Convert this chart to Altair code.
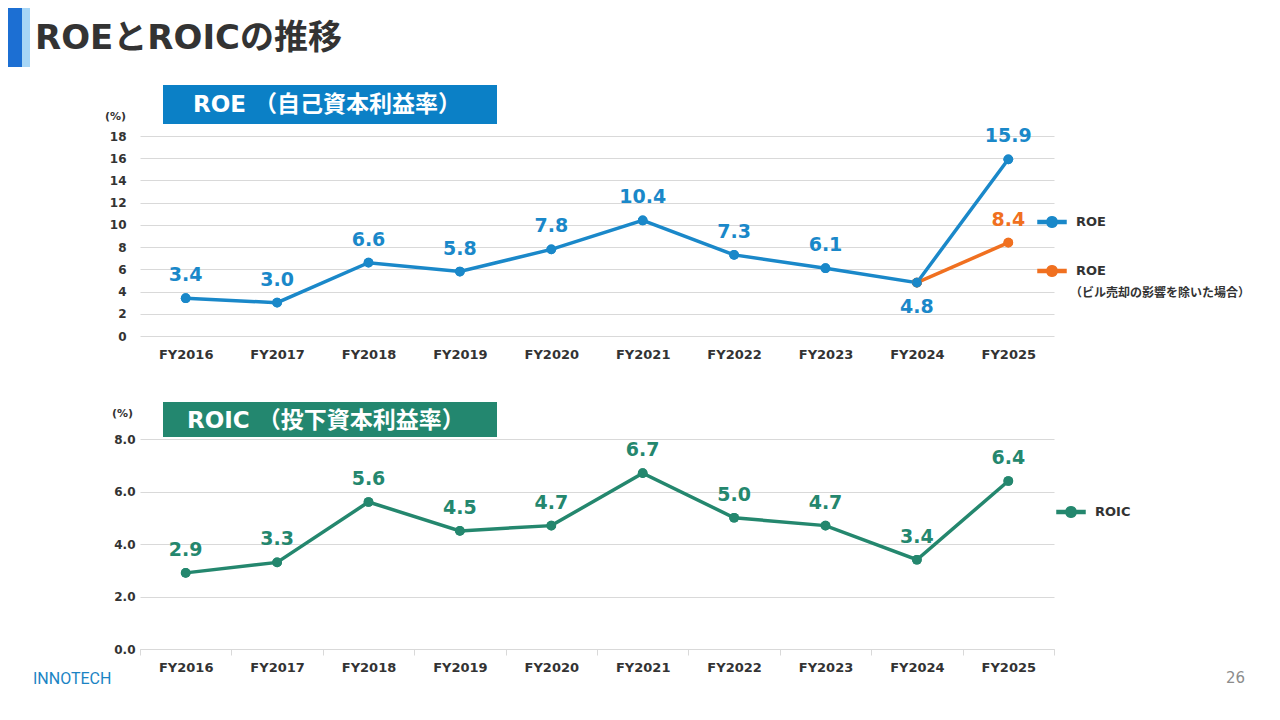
import math
import altair as alt
import pandas as pd

# ---- data ----
years = ['FY2016', 'FY2017', 'FY2018', 'FY2019', 'FY2020',
         'FY2021', 'FY2022', 'FY2023', 'FY2024', 'FY2025']
roe = [3.4, 3.0, 6.6, 5.8, 7.8, 10.4, 7.3, 6.1, 4.8, 15.9]
roe_adj_years = ['FY2024', 'FY2025']
roe_adj = [4.8, 8.4]
roic = [2.9, 3.3, 5.6, 4.5, 4.7, 6.7, 5.0, 4.7, 3.4, 6.4]

roe_series = ['ROE', 'ROE（ビル売却の影響を除いた場合）']
roe_colors = ['#1a88c9', '#f07020']
roic_series = ['ROIC']
roic_colors = ['#24876e']
roe_ticks = [0, 2, 4, 6, 8, 10, 12, 14, 16, 18]
roic_ticks = [0.0, 2.0, 4.0, 6.0, 8.0]

page_title = 'ROEとROICの推移'
roe_header = 'ROE （自己資本利益率）'
roic_header = 'ROIC （投下資本利益率）'
logo_text = 'INNOTECH'
page_no = '26'

FONT = "'DejaVu Sans', 'Noto Sans CJK JP', sans-serif"
TXT = '#333333'
GRID = '#d9d9d9'
# legend symbol: short thick line with a dot in the middle (unit box -1..1)
dot = ' '.join(('M' if i == 0 else 'L') + f'{0.38 * math.cos(i * math.pi / 10):.3f},'
               f'{0.38 * math.sin(i * math.pi / 10):.3f}' for i in range(20))
SYMBOL = 'M-1,-0.11L1,-0.11L1,0.11L-1,0.11Z ' + dot + 'Z'

# orange rows first so the blue line sits on top at FY2024
roe_df = pd.concat([
    pd.DataFrame({'year': roe_adj_years, 'value': roe_adj, 'series': roe_series[1]}),
    pd.DataFrame({'year': years, 'value': roe, 'series': roe_series[0]}),
], ignore_index=True)
roic_df = pd.DataFrame({'year': years, 'value': roic, 'series': roic_series[0]})


def x_enc(show_ticks):
    return alt.X('year:N', sort=years, bandPosition=0.5,
                 scale=alt.Scale(type='band', paddingInner=0, paddingOuter=0),
                 axis=alt.Axis(title=None, grid=False, labelAngle=0,
                               domain=show_ticks, domainColor=GRID,
                               ticks=show_ticks, tickBand='extent', tickSize=6, tickColor=GRID,
                               labelPadding=6 if show_ticks else 12,
                               labelFontSize=13, labelFontWeight='bold', labelColor=TXT))


def series_layers(df, series, colors, y, legend, below=None):
    sc = alt.Scale(domain=series, range=colors)
    x = x_enc(below is None)

    def dots(leg):
        return alt.Chart(df).mark_circle(size=95, opacity=1).encode(
            x=x, y=y, color=alt.Color('series:N', scale=sc, legend=leg))

    line = alt.Chart(df).mark_line(strokeWidth=3.5).encode(
        x=x, y=y, color=alt.Color('series:N', scale=sc, legend=None))
    keep = 'datum.year != "FY2024"' if below else 'true'
    above = alt.Chart(df).transform_filter(keep).mark_text(
        dy=-23, fontSize=19, fontWeight='bold', font=FONT).encode(
        x=x, y=y, text=alt.Text('value:Q', format='.1f'),
        color=alt.Color('series:N', scale=sc, legend=None))
    layers = [dots(legend), line, dots(None), above]
    if below:
        layers.append(alt.Chart(df).transform_filter(
            f'datum.year == "{below}" && datum.series == "{series[0]}"'
        ).mark_text(dy=24, fontSize=19, fontWeight='bold', font=FONT).encode(
            x=x, y=y, text=alt.Text('value:Q', format='.1f'),
            color=alt.Color('series:N', scale=sc, legend=None)))
    return layers


def box(x1, x2, y1, y2, color):
    return alt.Chart(pd.DataFrame({'k': [0]})).mark_rect(color=color).encode(
        x=alt.value(x1), x2=alt.value(x2), y=alt.value(y1), y2=alt.value(y2))


def label(text, x, y, font=FONT, **kw):
    return alt.Chart(pd.DataFrame({'t': [text]})).mark_text(font=font, **kw).encode(
        x=alt.value(x), y=alt.value(y), text='t:N')


def legend(lx, ly):
    return alt.Legend(title=None, orient='none', legendX=lx, legendY=ly,
                      symbolType=SYMBOL, symbolSize=784,
                      labelExpr="split(datum.label, '（')[0]",
                      labelFont=FONT, labelFontSize=13, labelFontWeight='bold',
                      labelColor=TXT, labelOffset=9, rowPadding=25)


# ---- top panel: ROE ----
y_roe = alt.Y('value:Q', scale=alt.Scale(domain=[0, 18], nice=False),
              axis=alt.Axis(values=roe_ticks, title='(%)', titleAngle=0, titleAlign='center',
                            titleBaseline='middle', titleX=-25, titleY=-20,
                            titleFontSize=11, titleFontWeight='bold', titleColor=TXT, titleFont=FONT,
                            domain=False, ticks=False, gridColor=GRID, labelPadding=14,
                            labelFontSize=12, labelFontWeight='bold', labelColor=TXT))

top = alt.layer(
    *series_layers(roe_df, roe_series, roe_colors, y_roe, legend(897, 71), below='FY2024'),
    box(-132, -118, -128, -69, '#1c6fd3'),
    box(-118, -110, -128, -69, '#a7d6f6'),
    label(page_title, -105, -97, align='left', baseline='middle', fontSize=34,
          fontWeight='bold', color=TXT),
    box(23, 357, -51, -12, '#0b80c6'),
    label(roe_header, 53, -31, align='left', baseline='middle', fontSize=23,
          fontWeight='bold', color='white'),
    label(roe_series[1][3:], 930, 157, align='left', baseline='middle', fontSize=12,
          fontWeight='bold', color=TXT),
).properties(width=914, height=200)

# ---- bottom panel: ROIC ----
y_roic = alt.Y('value:Q', scale=alt.Scale(domain=[0, 8], nice=False),
               axis=alt.Axis(values=roic_ticks, format='.1f', title='(%)', titleAngle=0,
                             titleAlign='center', titleBaseline='middle', titleX=-18, titleY=-26,
                             titleFontSize=11, titleFontWeight='bold', titleColor=TXT, titleFont=FONT,
                             domain=False, ticks=False, gridColor=GRID, labelPadding=5,
                             labelFontSize=12, labelFontWeight='bold', labelColor=TXT))

bottom = alt.layer(
    *series_layers(roic_df, roic_series, roic_colors, y_roic, legend(916, 58)),
    box(23, 357, -37, -2, '#23876f'),
    label(roic_header, 47, -18, align='left', baseline='middle', fontSize=23,
          fontWeight='bold', color='white'),
    label(logo_text, -107, 240, font='Roboto', align='left', baseline='middle', fontSize=16,
          color='#1a84c4'),
    label(page_no, 1105, 239, align='right', baseline='middle', fontSize=15, color='#8c8c8c'),
).properties(width=914, height=210)

chart = alt.vconcat(top, bottom, spacing=41).resolve_scale(
    x='independent', y='independent', color='independent'
).properties(padding=0, background='white').configure_view(stroke=None).configure_axis(
    labelFont=FONT
)

chart.save('out.html', embed_options={'renderer': 'svg', 'actions': False})
